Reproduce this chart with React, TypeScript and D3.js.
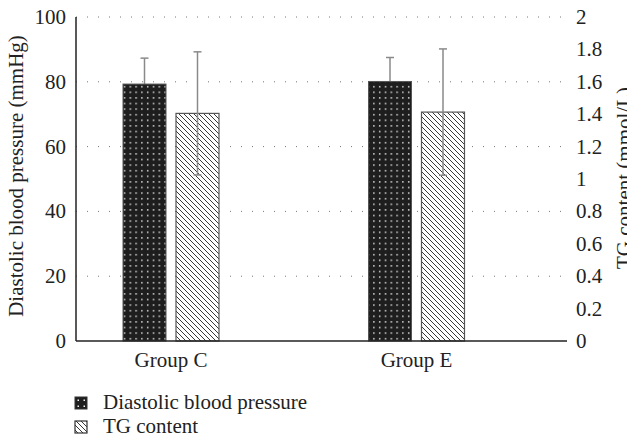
import React from "react";
import * as d3 from "d3";

const groups = ["Group C", "Group E"];
const bpMean = [79.3, 80.1];
const bpSd = [8.0, 7.4];
const tgMean = [1.405, 1.413];
const tgSd = [0.38, 0.39];
const leftTicks = [0, 20, 40, 60, 80, 100];
const rightTicks = [0, 0.2, 0.4, 0.6, 0.8, 1, 1.2, 1.4, 1.6, 1.8, 2];
const legendLabels = ["Diastolic blood pressure", "TG content"];

const W = 635, H = 442;
const plotL = 76, plotR = 567, plotT = 17, plotB = 341;
const FONT = "'Liberation Serif', 'Times New Roman', serif";
const FS = 21;

export default function App() {
  const yL = d3.scaleLinear().domain([0, 100]).range([plotB, plotT]);
  const yR = d3.scaleLinear().domain([0, 2]).range([plotB, plotT]);
  const x = d3.scalePoint().domain(groups).range([171, 416.5]);
  const barW = 43, gap = 10;
  const cap = 4;
  const errColor = "#8a8a8a";

  return (
    <div style={{ margin: -8 }}>
      <svg width={W} height={H} style={{ display: "block", fontFamily: FONT }}>
        <defs>
          <pattern id="dots" width="5.8" height="5.6" patternUnits="userSpaceOnUse">
            <rect width="5.8" height="5.6" fill="#1e1e1e" />
            <rect x="2" y="2" width="1.4" height="1.4" fill="#f4f4f4" />
          </pattern>
          <pattern id="dotsLeg" width="6" height="6" patternUnits="userSpaceOnUse" x="75" y="397">
            <rect width="6" height="6" fill="#1e1e1e" />
            <rect x="2.5" y="2.5" width="1.5" height="1.5" fill="#f4f4f4" />
          </pattern>
          <pattern id="hatch" width="5" height="5" patternUnits="userSpaceOnUse">
            <rect width="5" height="5" fill="#fff" />
            <path d="M-1,-1 L6,6 M-1,4 L1,6 M4,-1 L6,1" stroke="#222" strokeWidth="0.9" />
          </pattern>
        </defs>

        {/* gridlines */}
        {leftTicks.filter((t) => t > 0).map((t) => (
          <line key={t} x1={plotL} x2={plotR} y1={yL(t)} y2={yL(t)}
            stroke="#777" strokeWidth={1} strokeDasharray="1,10" />
        ))}

        {/* bars */}
        {groups.map((g, i) => {
          const cx = x(g)!;
          const x1 = cx - gap / 2 - barW;
          const x2 = cx + gap / 2;
          const e1 = x1 + barW / 2;
          const e2 = x2 + barW / 2;
          return (
            <g key={g}>
              <line x1={e1} x2={e1} y1={yL(bpMean[i] + bpSd[i])} y2={yL(bpMean[i])} stroke={errColor} strokeWidth={1.5} />
              <line x1={e1 - cap} x2={e1 + cap} y1={yL(bpMean[i] + bpSd[i])} y2={yL(bpMean[i] + bpSd[i])} stroke={errColor} strokeWidth={1.5} />
              <rect x={x1} y={yL(bpMean[i])} width={barW} height={plotB - yL(bpMean[i])}
                fill="url(#dots)" stroke="#555" strokeWidth={1} />
              <rect x={x2} y={yR(tgMean[i])} width={barW} height={plotB - yR(tgMean[i])}
                fill="url(#hatch)" stroke="#555" strokeWidth={1.2} />
              <line x1={e2} x2={e2} y1={yR(tgMean[i] + tgSd[i])} y2={yR(tgMean[i] - tgSd[i])} stroke={errColor} strokeWidth={1.5} />
              <line x1={e2 - cap} x2={e2 + cap} y1={yR(tgMean[i] + tgSd[i])} y2={yR(tgMean[i] + tgSd[i])} stroke={errColor} strokeWidth={1.5} />
              <line x1={e2 - cap} x2={e2 + cap} y1={yR(tgMean[i] - tgSd[i])} y2={yR(tgMean[i] - tgSd[i])} stroke={errColor} strokeWidth={1.5} />
              <text x={cx} y={367} textAnchor="middle" fontSize={FS} fill="#222">{g}</text>
            </g>
          );
        })}

        {/* axes */}
        <line x1={plotL} x2={plotL} y1={plotT} y2={plotB} stroke="#222" strokeWidth={1.5} />
        <line x1={plotL} x2={plotR} y1={plotB} y2={plotB} stroke="#222" strokeWidth={1.5} />

        {leftTicks.map((t) => (
          <text key={t} x={66} y={yL(t)} dy="0.33em" textAnchor="end" fontSize={FS} fill="#222">{t}</text>
        ))}
        {rightTicks.map((t) => (
          <text key={t} x={576} y={yR(t)} dy="0.33em" textAnchor="start" fontSize={FS} fill="#222">{d3.format("~g")(t)}</text>
        ))}

        <text transform={`translate(23,176) rotate(-90)`} textAnchor="middle" fontSize={FS} fill="#222">
          Diastolic blood pressure (mmHg)
        </text>
        <text transform={`translate(631,178) rotate(-90)`} textAnchor="middle" fontSize={FS} fill="#222">
          TG content (mmol/L)
        </text>

        {/* legend */}
        <rect x={75} y={397} width={12} height={12} fill="url(#dotsLeg)" stroke="#333" strokeWidth={1} />
        <text x={103} y={409} fontSize={FS} fill="#222">{legendLabels[0]}</text>
        <rect x={75} y={421} width={12} height={12} fill="url(#hatch)" stroke="#333" strokeWidth={1.2} />
        <text x={103} y={433} fontSize={FS} fill="#222">{legendLabels[1]}</text>
      </svg>
    </div>
  );
}
